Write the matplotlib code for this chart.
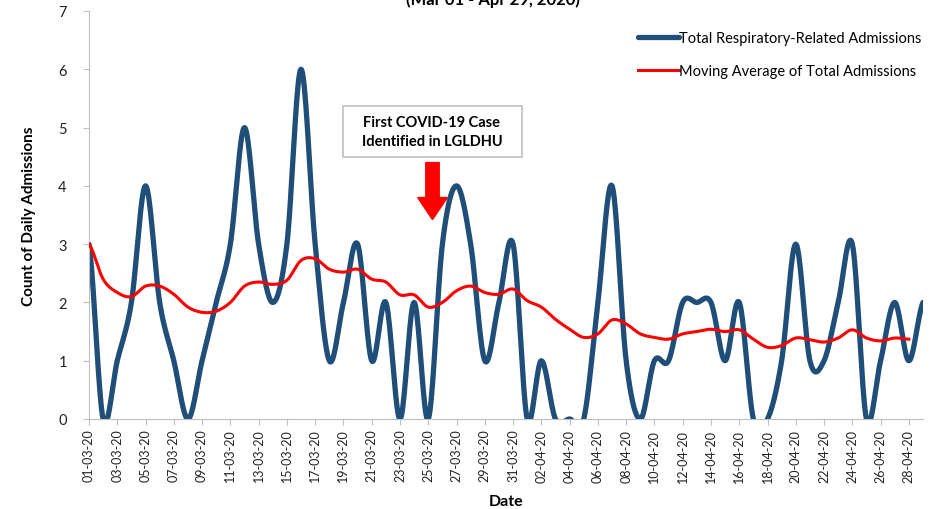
import numpy as np
import pandas as pd
import matplotlib
matplotlib.use('Agg')
import matplotlib.pyplot as plt
from matplotlib.patches import FancyArrow, Rectangle

plt.rcParams['font.family'] = ['Lato', 'DejaVu Sans']

# daily data, 01-03-2020 .. 29-04-2020
dates = pd.date_range('2020-03-01', '2020-04-29', freq='D')
admissions = [3, 0, 1, 2, 4, 2, 1, 0, 1, 2,
              3, 5, 3, 2, 3, 6, 3, 1, 2, 3,
              1, 2, 0, 2, 0, 3, 4, 3, 1, 2,
              3, 0, 1, 0, 0, 0, 2, 4, 1, 0,
              1, 1, 2, 2, 2, 1, 2, 0, 0, 1,
              3, 1, 1, 2, 3, 0, 1, 2, 1, 2]
moving_avg = [3.0, 2.4, 2.17, 2.1, 2.28, 2.28, 2.14, 1.92, 1.83, 1.85,
              2.0, 2.28, 2.35, 2.31, 2.38, 2.72, 2.75, 2.57, 2.52, 2.57,
              2.4, 2.35, 2.13, 2.13, 1.92, 2.0, 2.2, 2.28, 2.17, 2.14,
              2.23, 2.03, 1.92, 1.71, 1.54, 1.4, 1.46, 1.7, 1.63, 1.46,
              1.4, 1.37, 1.46, 1.5, 1.54, 1.5, 1.53, 1.37, 1.23, 1.26,
              1.39, 1.36, 1.32, 1.39, 1.53, 1.39, 1.34, 1.39, 1.37]
tick_labels = [d.strftime('%d-%m-%y') for d in dates[::2]]


def smooth(y, n=20):
    # catmull-rom style smoothing, like Excel "smoothed line"
    y = np.asarray(y, dtype=float)
    x = np.arange(len(y), dtype=float)
    p = np.concatenate([[y[0]], y, [y[-1]]])
    xs, ys = [], []
    for i in range(len(y) - 1):
        p0, p1, p2, p3 = p[i], p[i + 1], p[i + 2], p[i + 3]
        t = np.linspace(0, 1, n, endpoint=False)
        yy = 0.5 * ((2 * p1) + (-p0 + p2) * t + (2 * p0 - 5 * p1 + 4 * p2 - p3) * t ** 2
                    + (-p0 + 3 * p1 - 3 * p2 + p3) * t ** 3)
        xs.append(x[i] + t)
        ys.append(yy)
    xs.append([x[-1]])
    ys.append([y[-1]])
    return np.concatenate(xs), np.concatenate(ys)


fig = plt.figure(figsize=(9.34, 5.10), dpi=100)
ax = fig.add_axes([89 / 934, 1 - 420 / 510, (923 - 89) / 934, 408 / 510])

bx, by = smooth(admissions)
ax.plot(bx, by, color='#1F4E79', lw=3.8, solid_capstyle='round',
        label='Total Respiratory-Related Admissions', zorder=2)
rx, ry = smooth(moving_avg)
ax.plot(rx, ry, color='#FF0000', lw=2.2,
        label='Moving Average of Total Admissions', zorder=3)

ax.set_xlim(0, len(dates) - 1)
ax.set_ylim(0, 7)
ax.set_xticks(np.arange(0, len(dates), 2))
ax.set_xticklabels(tick_labels, rotation=90, fontsize=9, color='#222222')
ax.set_yticks(range(0, 8))
ax.tick_params(axis='y', labelsize=10.5, colors='#222222', length=4, color='#BFBFBF', pad=12)
ax.tick_params(axis='x', length=4, color='#BFBFBF', pad=3)
for s in ['top', 'right']:
    ax.spines[s].set_visible(False)
for s in ['left', 'bottom']:
    ax.spines[s].set_color('#BFBFBF')

ax.set_ylabel('Count of Daily Admissions', fontsize=11, fontweight='bold', labelpad=16)
ax.set_xlabel('Date', fontsize=11.5, fontweight='bold', labelpad=9)

leg = ax.legend(loc='upper right', bbox_to_anchor=(1.014, 0.983), frameon=False, fontsize=10.5,
                handlelength=2.8, handletextpad=0.0, labelspacing=1.3)

# annotation box + arrow
ax.add_patch(Rectangle((17.96, 4.49), 12.66, 0.88, fc='white', ec='#BFBFBF', lw=1.2, zorder=5))
ax.text(24.26, 4.93, 'First COVID-19 Case\nIdentified in LGLDHU', ha='center', va='center',
        fontsize=10.5, fontweight='bold', linespacing=1.4, zorder=6)
ax.add_patch(FancyArrow(24.3, 4.4, 0, -0.98, width=0.95, head_width=2.1, head_length=0.38,
                        length_includes_head=True, color='#FF0000', zorder=4))

fig.text(493 / 934, 1.0, '(Mar 01 - Apr 29, 2020)', ha='center', va='center',
         fontsize=12, fontweight='bold')

fig.savefig('out.png', dpi=100)
